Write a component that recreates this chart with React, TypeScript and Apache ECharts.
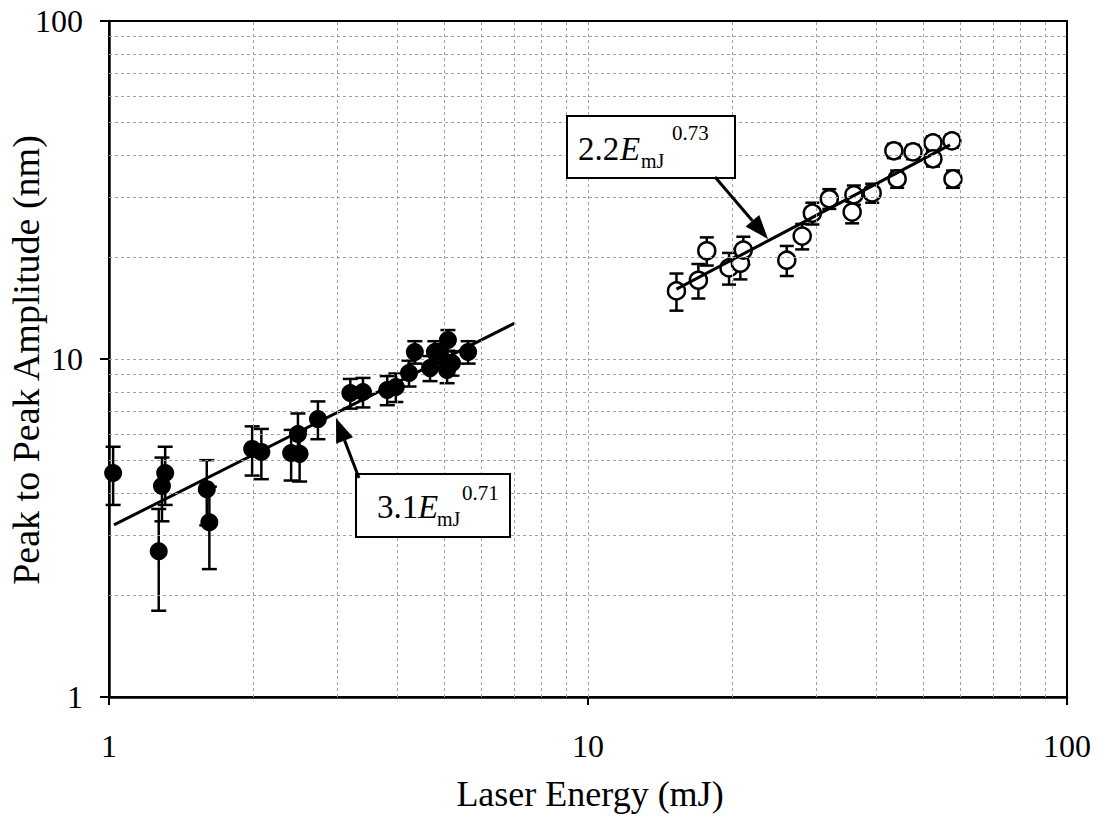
import React, { useEffect, useRef } from "react";
import * as echarts from "echarts";

// Filled circles (lower energy set): energy (mJ), amplitude (nm), error (nm)
const filledX = [1.02, 1.31, 1.29, 1.27, 1.60, 1.62, 1.99, 2.08, 2.40, 2.50, 2.48, 2.73, 3.19, 3.39, 3.81, 3.97, 4.23, 4.35, 4.68, 4.79, 5.10, 5.20, 5.08, 5.62, 4.91];
const filledY = [4.60, 4.60, 4.21, 2.70, 4.12, 3.29, 5.42, 5.31, 5.27, 5.24, 6.00, 6.64, 7.93, 7.99, 8.10, 8.26, 9.09, 10.49, 9.40, 10.49, 11.38, 9.73, 9.28, 10.49, 10.27];
const filledErr = [0.9, 0.9, 0.9, 0.9, 0.9, 0.9, 0.9, 0.9, 0.9, 0.9, 0.9, 0.85, 0.8, 0.8, 0.8, 0.8, 0.8, 0.8, 0.8, 0.8, 0.8, 0.8, 0.8, 0.8, 0.8];

// Open circles (higher energy set)
const openX = [15.3, 17.0, 17.7, 19.7, 20.8, 21.1, 26.0, 28.0, 29.4, 31.9, 35.6, 35.9, 39.2, 44.2, 43.5, 47.7, 52.5, 52.5, 57.5, 57.8];
const openY = [15.9, 17.1, 20.9, 18.6, 19.2, 21.0, 19.6, 23.1, 27.0, 29.8, 27.2, 30.6, 31.0, 34.1, 41.3, 41.0, 43.6, 39.1, 44.2, 34.1];
const openErr = [2.0, 2.0, 2.0, 2.0, 2.0, 2.0, 2.0, 2.0, 2.0, 2.0, 2.0, 2.0, 2.0, 2.0, 2.0, 2.0, 2.0, 2.0, 2.0, 2.0];

// Power-law fit lines (end points)
const fitFilledX = [1.024, 7.04];
const fitFilledY = [3.23, 12.78];
const fitOpenX = [15.3, 57.0];
const fitOpenY = [16.1, 43.0];

// Grid values
const minorGridValues = [2, 3, 4, 5, 6, 7, 8, 9, 10, 20, 30, 40, 50, 60, 70, 80, 90];

const FONT = "Liberation Serif, Times New Roman, serif";

function arrowHead(tail: number[], tip: number[], len: number, half: number) {
  const dx = tip[0] - tail[0];
  const dy = tip[1] - tail[1];
  const d = Math.sqrt(dx * dx + dy * dy);
  const ux = dx / d;
  const uy = dy / d;
  const bx = tip[0] - ux * len;
  const by = tip[1] - uy * len;
  return [
    [tip[0], tip[1]],
    [bx - uy * half, by + ux * half],
    [bx + uy * half, by - ux * half],
  ];
}

function errRender(capW: number) {
  return (params: any, api: any) => {
    const x = api.value(0);
    const y = api.value(1);
    const e = api.value(2);
    const top = api.coord([x, y + e]);
    const bot = api.coord([x, y - e]);
    const st = { stroke: "#000", lineWidth: 2.5 };
    return {
      type: "group",
      children: [
        { type: "line", shape: { x1: top[0], y1: top[1], x2: bot[0], y2: bot[1] }, style: st },
        { type: "line", shape: { x1: top[0] - capW / 2, y1: top[1], x2: top[0] + capW / 2, y2: top[1] }, style: st },
        { type: "line", shape: { x1: bot[0] - capW / 2, y1: bot[1], x2: bot[0] + capW / 2, y2: bot[1] }, style: st },
      ],
    };
  };
}

function txt(x: number, y: number, text: string, size: number, italic?: boolean) {
  return {
    type: "text",
    x,
    y,
    z: 21,
    style: {
      text,
      fontSize: size,
      fontFamily: FONT,
      fontStyle: italic ? "italic" : "normal",
      fill: "#000",
      verticalAlign: "bottom",
      textVerticalAlign: "bottom",
    },
  };
}

export default function App() {
  const ref = useRef<HTMLDivElement>(null);
  useEffect(() => {
    if (!ref.current) return;
    const chart = echarts.init(ref.current, null, { renderer: "svg" });

    const filledData = filledX.map((x, i) => [x, filledY[i]]);
    const filledErrData = filledX.map((x, i) => [x, filledY[i], filledErr[i]]);
    const openData = openX.map((x, i) => [x, openY[i]]);
    const openErrData = openX.map((x, i) => [x, openY[i], openErr[i]]);

    const gridLineStyle = { type: [3, 3] as any, color: "#a0a0a0", width: 1 };
    const markLines = [
      ...minorGridValues.map((v) => ({ xAxis: v })),
      ...minorGridValues.map((v) => ({ yAxis: v })),
    ];

    const arrow1Tail = [715, 177];
    const arrow1Tip = [768, 239];
    const arrow2Tail = [359, 478];
    const arrow2Tip = [336, 418];
    const head1 = arrowHead(arrow1Tail, arrow1Tip, 24, 9);
    const head2 = arrowHead(arrow2Tail, arrow2Tip, 24, 9);

    const option: any = {
      animation: false,
      backgroundColor: "#fff",
      textStyle: { fontFamily: FONT },
      grid: {
        left: 109,
        top: 21,
        right: 32,
        bottom: 120,
        show: true,
        borderColor: "#000",
        borderWidth: 2,
        backgroundColor: "transparent",
      },
      xAxis: {
        type: "log",
        logBase: 10,
        min: 1,
        max: 100,
        axisLine: { show: true, lineStyle: { color: "#000", width: 2.5 } },
        axisTick: { show: true, inside: false, length: 8, lineStyle: { color: "#000", width: 2 } },
        axisLabel: { color: "#000", fontSize: 32, fontFamily: FONT, margin: 33 },
        splitLine: { show: false },
      },
      yAxis: {
        type: "log",
        logBase: 10,
        min: 1,
        max: 100,
        axisLine: { show: true, lineStyle: { color: "#000", width: 2.5 } },
        axisTick: { show: true, inside: false, length: 9, lineStyle: { color: "#000", width: 2 } },
        axisLabel: { color: "#000", fontSize: 32, fontFamily: FONT, margin: 26 },
        splitLine: { show: false },
      },
      series: [
        {
          type: "line",
          data: [],
          silent: true,
          z: 1,
          markLine: {
            silent: true,
            symbol: ["none", "none"],
            label: { show: false },
            lineStyle: gridLineStyle,
            data: markLines,
          },
        },
        {
          type: "custom",
          name: "filledErr",
          renderItem: errRender(15),
          data: filledErrData,
          z: 2,
          silent: true,
        },
        {
          type: "custom",
          name: "openErr",
          renderItem: errRender(14),
          data: openErrData,
          z: 2,
          silent: true,
        },
        {
          type: "scatter",
          name: "open",
          data: openData,
          symbol: "circle",
          symbolSize: 17,
          itemStyle: { color: "#fff", borderColor: "#000", borderWidth: 2.5, opacity: 1 },
          z: 3,
        },
        {
          type: "line",
          name: "fitFilled",
          data: fitFilledX.map((x, i) => [x, fitFilledY[i]]),
          showSymbol: false,
          symbol: "none",
          lineStyle: { color: "#000", width: 3 },
          z: 4,
        },
        {
          type: "line",
          name: "fitOpen",
          data: fitOpenX.map((x, i) => [x, fitOpenY[i]]),
          showSymbol: false,
          symbol: "none",
          lineStyle: { color: "#000", width: 3 },
          z: 4,
        },
        {
          type: "scatter",
          name: "filled",
          data: filledData,
          symbol: "circle",
          symbolSize: 18,
          itemStyle: { color: "#000", opacity: 1 },
          z: 5,
        },
      ],
      graphic: [
        // axis titles
        {
          type: "text",
          x: 590,
          y: 794,
          z: 10,
          style: {
            text: "Laser Energy (mJ)",
            fontSize: 36,
            fontFamily: FONT,
            fill: "#000",
            align: "center",
            verticalAlign: "middle",
          },
        },
        {
          type: "text",
          x: 26,
          y: 360,
          rotation: Math.PI / 2,
          z: 10,
          style: {
            text: "Peak to Peak Amplitude (nm)",
            fontSize: 38,
            fontFamily: FONT,
            fill: "#000",
            align: "center",
            verticalAlign: "middle",
          },
        },
        // annotation 1
        {
          type: "rect",
          shape: { x: 567, y: 116, width: 168, height: 62 },
          style: { fill: "#fff", stroke: "#000", lineWidth: 2 },
          z: 20,
        },
        txt(578, 165, "2.2", 33),
        txt(620, 165, "E", 33, true),
        txt(641, 171, "mJ", 20),
        txt(672, 143, "0.73", 21),
        {
          type: "line",
          shape: { x1: arrow1Tail[0], y1: arrow1Tail[1], x2: head1[1][0] / 2 + head1[2][0] / 2, y2: head1[1][1] / 2 + head1[2][1] / 2 },
          style: { stroke: "#000", lineWidth: 3 },
          z: 21,
        },
        {
          type: "polygon",
          shape: { points: head1 },
          style: { fill: "#000" },
          z: 21,
        },
        // annotation 2
        {
          type: "rect",
          shape: { x: 356, y: 474, width: 154, height: 63 },
          style: { fill: "#fff", stroke: "#000", lineWidth: 2 },
          z: 20,
        },
        txt(377, 523, "3.1", 33),
        txt(418, 523, "E", 33, true),
        txt(437, 529, "mJ", 20),
        txt(462, 503, "0.71", 21),
        {
          type: "line",
          shape: { x1: arrow2Tail[0], y1: arrow2Tail[1], x2: head2[1][0] / 2 + head2[2][0] / 2, y2: head2[1][1] / 2 + head2[2][1] / 2 },
          style: { stroke: "#000", lineWidth: 3 },
          z: 21,
        },
        {
          type: "polygon",
          shape: { points: head2 },
          style: { fill: "#000" },
          z: 21,
        },
      ],
    };
    chart.setOption(option);
    return () => chart.dispose();
  }, []);

  return (
    <div
      ref={ref}
      style={{ position: "fixed", left: 0, top: 0, width: 1099, height: 817, background: "#fff" }}
    />
  );
}
